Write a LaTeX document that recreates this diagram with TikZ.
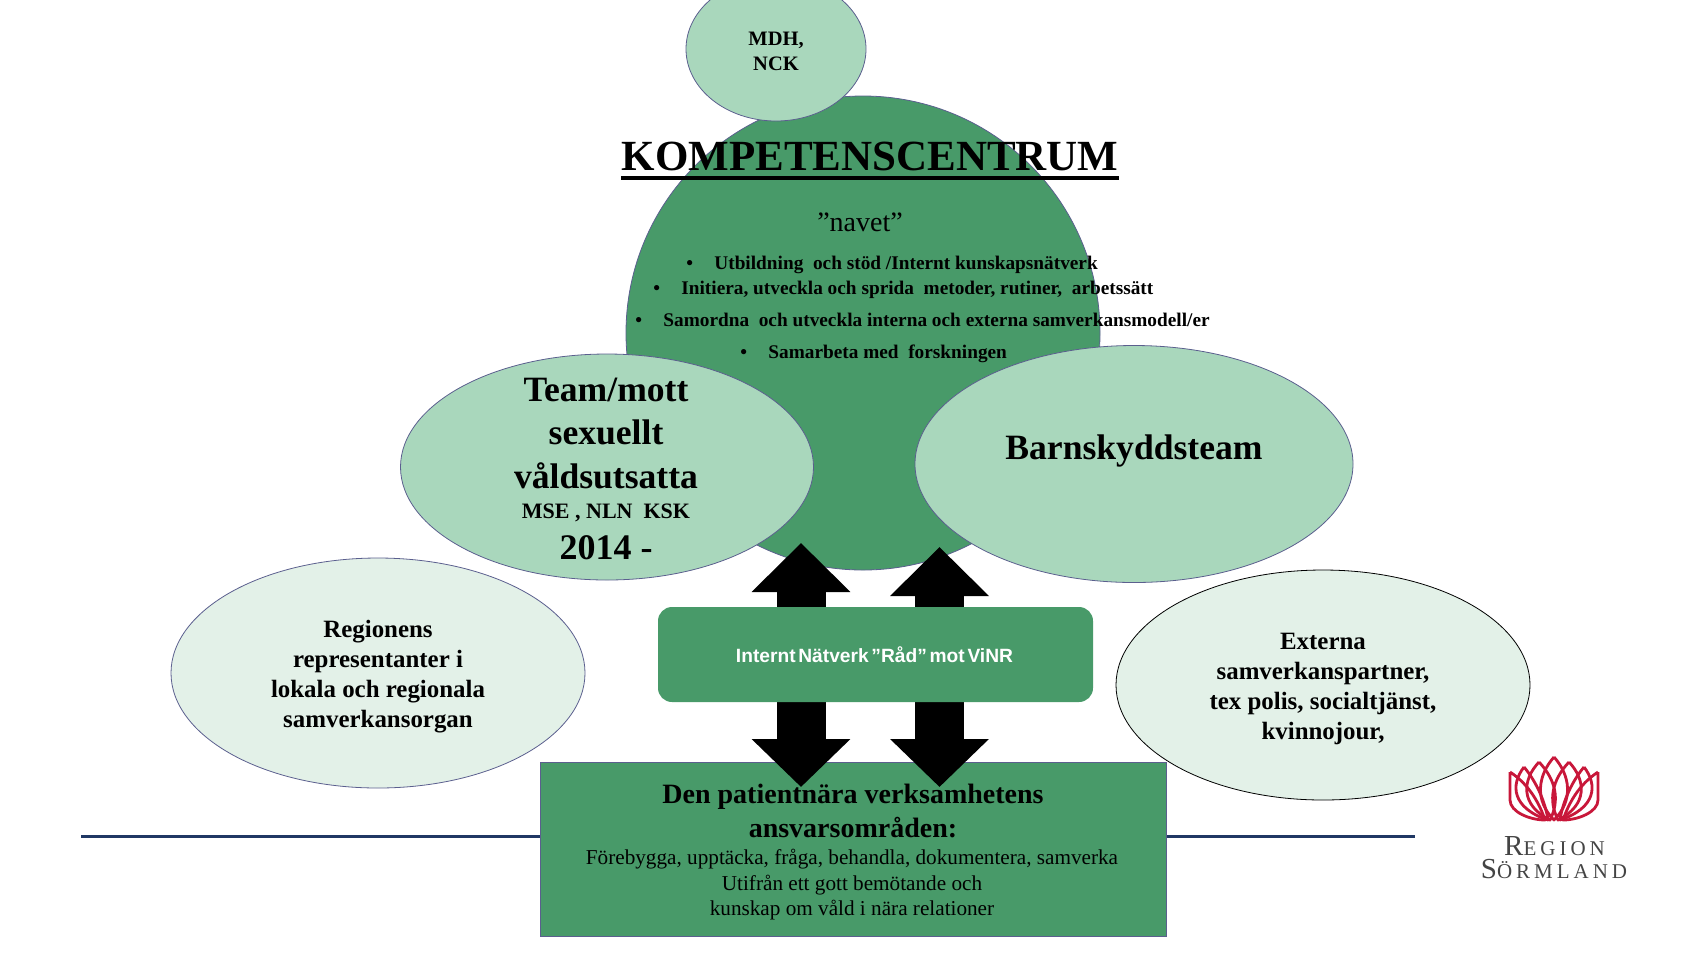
\documentclass[tikz,border=0pt]{standalone}
\usepackage{fontspec}
\setmainfont{Liberation Serif}
\newfontfamily\arialfont{Liberation Sans}
\usepackage{xcolor}
\usepackage{tikz}
\usetikzlibrary{shapes.geometric}
\usetikzlibrary{arrows.meta}

\definecolor{hubgreen}{HTML}{489A69}
\definecolor{midgreen}{HTML}{A9D7BC}
\definecolor{palegreen}{HTML}{E3F1E8}
\definecolor{edgeblue}{HTML}{5B5F8E}
\definecolor{rulenavy}{HTML}{203864}
\definecolor{lotusred}{HTML}{C8173A}
\definecolor{logogrey}{HTML}{444444}

\newcommand{\bul}{\makebox[14pt][l]{\textbullet}}

\begin{document}
\begin{tikzpicture}[
  x=0.5pt, y=-0.5pt,
  hub/.style={circle, draw=edgeblue, fill=hubgreen, thin, inner sep=0pt, minimum size=237pt},
  midell/.style={ellipse, draw=edgeblue, fill=midgreen, thin, inner sep=0pt},
  paleell/.style={ellipse, draw=edgeblue, fill=palegreen, thin, inner sep=0pt, minimum width=207pt, minimum height=115pt},
  bigtext/.style={align=center, inner sep=0pt, font=\fontsize{17.8}{21.75}\selectfont\bfseries},
  sidetext/.style={align=center, inner sep=0pt, font=\fontsize{12.45}{15}\selectfont\bfseries},
  navetline/.style={anchor=west, inner sep=0pt, font=\fontsize{9.65}{11}\selectfont\bfseries},
  blockarrow/.style={line width=24.5pt, {Triangle[length=24.5pt,width=48pt]}-{Triangle[length=24pt,width=48pt]}},
  petal/.style={draw=lotusred, line width=1.4pt, line join=round},
]
  \clip (0,0) rectangle (1707,960);

  \coordinate (rulestart) at (81,836);
  \coordinate (ruleend) at (1415,836);
  \draw[rulenavy, line width=1.5pt] (rulestart) -- (ruleend);

  \node[hub] (navet) at (863,333) {};
  \node[midell, minimum width=90pt, minimum height=72pt] (mdh) at (776,49) {};
  \node[midell, minimum width=206.5pt, minimum height=113pt] (team) at (607,467) {};
  \node[midell, minimum width=219pt, minimum height=118.5pt] (barn) at (1134,464) {};
  \node[paleell] (regionens) at (378,673) {};
  \node[paleell, draw=black] (externa) at (1323,685) {};
  \node[rectangle, draw=edgeblue, fill=hubgreen, thin, minimum width=313pt, minimum height=87pt] (patient) at (853,849) {};

  % double arrows
  \coordinate (leftup) at (801,543);
  \coordinate (leftdown) at (801,787);
  \coordinate (rightup) at (939.5,547);
  \coordinate (rightdown) at (939.5,787);
  \draw[blockarrow] (leftup) -- (leftdown);
  \draw[blockarrow] (rightup) -- (rightdown);

  \node[rectangle, rounded corners=7pt, fill=hubgreen, minimum width=217.5pt, minimum height=47.5pt] (natverk) at (875.5,654.5) {};
  \node[inner sep=0pt, text=white, font=\arialfont\fontsize{9.6}{12}\selectfont\bfseries] (natverktext) at (874.5,655) {\spaceskip=.14em\relax Internt Nätverk ”Råd” mot ViNR};

  \node[inner sep=0pt, font=\fontsize{10.25}{12.5}\selectfont\bfseries, align=center] (mdhtext) at (776,51) {MDH,\\NCK};

  \node[inner sep=0pt, font=\fontsize{21.5}{24}\selectfont\bfseries] (title) at (870,156) {KOMPETENSCENTRUM};
  \draw[line width=2pt] ([yshift=-4pt]title.base west) -- ([yshift=-4pt]title.base east);
  \node[inner sep=0pt, font=\fontsize{14}{16}\selectfont] (navettext) at (860,222) {”navet”};

  \node[navetline] (item1) at (686,265) {\bul Utbildning \ och stöd /Internt kunskapsnätverk};
  \node[navetline] (item2) at (653,290) {\bul Initiera, utveckla och sprida \ metoder, rutiner, \ arbetssätt};
  \node[navetline] (item3) at (635,320) {\bul Samordna \ och utveckla interna och externa samverkansmodell/er};
  \node[navetline] (item4) at (740,354) {\bul Samarbeta med \ forskningen};

  \node[bigtext] (teamtext) at (606,433) {Team/mott\\sexuellt\\våldsutsatta};
  \node[inner sep=0pt, font=\fontsize{11}{13}\selectfont\bfseries] (teamsub) at (606,513) {MSE , NLN \ KSK};
  \node[inner sep=0pt, font=\fontsize{18}{20}\selectfont\bfseries] (teamyear) at (606,548) {2014 -};
  \node[bigtext] (barntext) at (1134,451) {Barnskyddsteam};

  \node[sidetext] (regionenstext) at (378,677) {Regionens\\representanter i\\lokala och regionala\\samverkansorgan};
  \node[sidetext] (externatext) at (1323,689) {Externa\\samverkanspartner,\\tex polis, socialtjänst,\\kvinnojour,};

  \node[inner sep=0pt, align=center, font=\fontsize{14}{17}\selectfont\bfseries] (patienthead) at (853,811) {Den patientnära verksamhetens\\ansvarsområden:};
  \node[inner sep=0pt, align=center, font=\fontsize{10.6}{12.75}\selectfont] (patientbody) at (852,885) {Förebygga, upptäcka, fråga, behandla, dokumentera, samverka\\Utifrån ett gott bemötande och\\kunskap om våld i nära relationer};

  % logo
  \draw[petal] (1554,757) .. controls (1538,775) and (1534,800) .. (1554,820) .. controls (1574,800) and (1570,775) .. (1554,757);
  \draw[petal] (1539,762) .. controls (1522,780) and (1520,805) .. (1550,820) .. controls (1560,800) and (1556,780) .. (1539,762);
  \draw[petal] (1569,762) .. controls (1586,780) and (1588,805) .. (1558,820) .. controls (1548,800) and (1552,780) .. (1569,762);
  \draw[petal] (1524,767) .. controls (1510,785) and (1512,808) .. (1548,820) .. controls (1545,800) and (1535,780) .. (1524,767);
  \draw[petal] (1584,767) .. controls (1598,785) and (1596,808) .. (1560,820) .. controls (1563,800) and (1573,780) .. (1584,767);
  \draw[petal] (1510,772) -- (1510,800) .. controls (1510,812) and (1530,820) .. (1545,820) .. controls (1540,805) and (1530,785) .. (1510,772);
  \draw[petal] (1598,772) -- (1598,800) .. controls (1598,812) and (1578,820) .. (1563,820) .. controls (1568,805) and (1578,785) .. (1598,772);
  \node[inner sep=0pt, text=logogrey, font=\fontsize{10.5}{12}\selectfont] (logoa) at (1554.5,846) {\addfontfeature{LetterSpace=19}{\fontsize{14.5}{12}\selectfont R}EGION};
  \node[inner sep=0pt, text=logogrey, font=\fontsize{10.5}{12}\selectfont] (logob) at (1554,869) {\addfontfeature{LetterSpace=19}{\fontsize{14.5}{12}\selectfont S}ÖRMLAND};
\end{tikzpicture}
\end{document}
